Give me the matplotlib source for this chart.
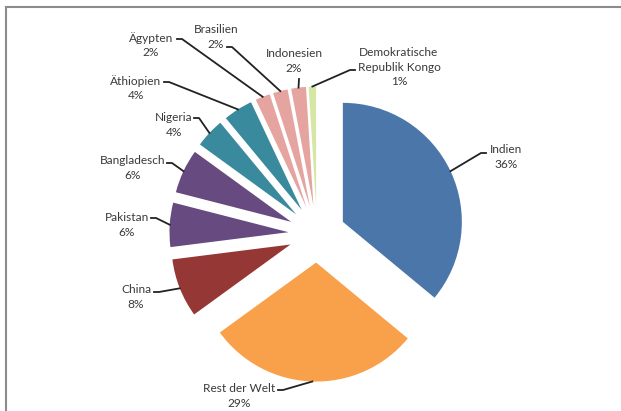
import matplotlib
matplotlib.use("Agg")
import matplotlib.pyplot as plt
from matplotlib.lines import Line2D
import numpy as np

# data
countries = ["Indien", "Rest der Welt", "China", "Pakistan", "Bangladesch",
             "Nigeria", "Äthiopien", "Ägypten", "Brasilien", "Indonesien",
             "Demokratische\nRepublik Kongo"]
shares = [36, 29, 8, 6, 6, 4, 4, 2, 2, 2, 1]
colors = ["#4a76aa", "#f9a04a", "#953735", "#664a80", "#664a80",
          "#3a8a9e", "#3a8a9e", "#e6a4a0", "#e6a4a0", "#e6a4a0", "#d5e6a5"]

# label layout in pixels: text centre and knee of the leader line
label_pos = [(506, 157), (239, 396), (136, 297), (127, 225), (133, 168),
             (174, 125), (136, 88), (151, 45), (216, 37), (294, 61), (399, 67)]
knee_pos = [(481, 153), (283, 390), (159, 292), (156, 218), (172, 163),
            (199, 118), (169, 82), (182, 39), (232, 47), (299, 79), (350, 70)]

W, H = 621, 411
CX, CY, R = 317, 234, 119
EXPLODE = 0.24


def to_data(px, py):
    return (px - CX) / R, (CY - py) / R


fig = plt.figure(figsize=(W / 100, H / 100), dpi=100)
ax = fig.add_axes([0, 0, 1, 1])

wedges, _ = ax.pie(shares, colors=colors, startangle=90, counterclock=False,
                   explode=[EXPLODE] * len(shares), radius=1,
                   wedgeprops=dict(linewidth=0))

ax.set_xlim(-CX / R, (W - CX) / R)
ax.set_ylim(-(H - CY) / R, CY / R)
ax.set_aspect("equal")
ax.axis("off")

tcol = "#3a3a3a"
for w, name, val, (lx, ly), (kx, ky) in zip(wedges, countries, shares,
                                           label_pos, knee_pos):
    mid = np.deg2rad((w.theta1 + w.theta2) / 2)
    cx, cy = w.center
    ex, ey = cx + np.cos(mid) * w.r, cy + np.sin(mid) * w.r
    tx, ty = to_data(lx, ly)
    kxd, kyd = to_data(kx, ky)
    ax.text(tx, ty, f"{name}\n{val}%", ha="center", va="center",
            fontsize=8.6, color=tcol, family="Lato", linespacing=1.35)
    # short horizontal piece next to the text, then down to the slice
    side = -1 if kx > lx else 1
    if name == "Indonesien":
        ax.plot([kxd, ex], [kyd, ey], color="#222222", lw=1.3)
    else:
        ax.plot([kxd + side * 5 / R, kxd, ex], [kyd, kyd, ey],
                color="#222222", lw=1.3)

# frame lines of the original screenshot
fig.add_artist(Line2D([6 / W, 1], [1 - 7 / H, 1 - 7 / H], color="#8c8c8c", lw=1.5))
fig.add_artist(Line2D([6 / W, 6 / W], [0, 1 - 7 / H], color="#8c8c8c", lw=1.5))

fig.savefig("out.png", dpi=100, facecolor="white")
